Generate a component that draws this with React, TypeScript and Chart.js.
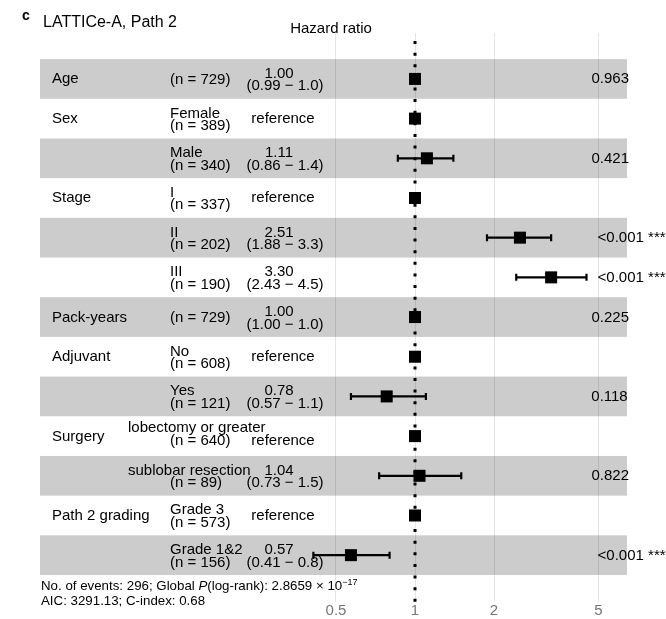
import React, { useEffect, useRef } from "react";
import { Chart, registerables } from "chart.js";

Chart.register(...registerables);

// ---- data ----
const variables = ["Age", "Sex", "", "Stage", "", "", "Pack-years", "Adjuvant", "", "Surgery", "", "Path 2 grading", ""];
const levels = ["", "Female", "Male", "I", "II", "III", "", "No", "Yes", "lobectomy or greater", "sublobar resection", "Grade 3", "Grade 1&2"];
const nCounts = [729, 389, 340, 337, 202, 190, 729, 608, 121, 640, 89, 573, 156];
const hazardRatios = [1.0, 1, 1.11, 1, 2.51, 3.3, 1.0, 1, 0.78, 1, 1.04, 1, 0.57];
const ciLow: (number | null)[] = [0.99, null, 0.86, null, 1.88, 2.43, 1.0, null, 0.57, null, 0.73, null, 0.41];
const ciHigh: (number | null)[] = [1.0, null, 1.4, null, 3.3, 4.5, 1.0, null, 1.1, null, 1.5, null, 0.8];
const estimateLabels = ["1.00", "reference", "1.11", "reference", "2.51", "3.30", "1.00", "reference", "0.78", "reference", "1.04", "reference", "0.57"];
const ciLabels = ["(0.99 \u2212 1.0)", "", "(0.86 \u2212 1.4)", "", "(1.88 \u2212 3.3)", "(2.43 \u2212 4.5)", "(1.00 \u2212 1.0)", "", "(0.57 \u2212 1.1)", "", "(0.73 \u2212 1.5)", "", "(0.41 \u2212 0.8)"];
const pLabels = ["0.963", "", "0.421", "", "<0.001 ***", "<0.001 ***", "0.225", "", "0.118", "", "0.822", "", "<0.001 ***"];
const tickValues = [0.5, 1, 2, 5];
const tickLabels = ["0.5", "1", "2", "5"];

const panelLetter = "c";
const titleText = "LATTICe-A, Path 2";
const axisTitle = "Hazard ratio";
const nEvents = 296;
const logRankMantissa = "2.8659";
const logRankExponent = "\u221217";
const aicValue = "3291.13";
const cIndexValue = "0.68";

const FONT = '"Liberation Sans", Arial, Helvetica, sans-serif';

export default function App() {
  const ref = useRef<HTMLCanvasElement>(null);

  useEffect(() => {
    document.body.style.margin = "0";
    const canvas = ref.current!;

    const forestPlugin = {
      id: "forest",
      beforeDraw(chart: any) {
        const { ctx, chartArea, scales } = chart;
        const y = scales.y;
        ctx.save();
        ctx.fillStyle = "#cccccc";
        for (let i = 0; i < levels.length; i += 2) {
          const a = y.getPixelForValue(i - 0.5);
          const b = y.getPixelForValue(i + 0.5);
          ctx.fillRect(chartArea.left, Math.min(a, b), chartArea.right - chartArea.left, Math.abs(b - a));
        }
        ctx.restore();
      },
      afterDatasetsDraw(chart: any) {
        const { ctx, chartArea, scales } = chart;
        const x = scales.x;
        const y = scales.y;
        ctx.save();
        // error bars
        ctx.strokeStyle = "#000";
        ctx.lineWidth = 2.2;
        for (let i = 0; i < levels.length; i++) {
          const lo = ciLow[i];
          const hi = ciHigh[i];
          if (lo == null || hi == null) continue;
          const yc = y.getPixelForValue(i);
          const x0 = x.getPixelForValue(lo);
          const x1 = x.getPixelForValue(hi);
          ctx.beginPath();
          ctx.moveTo(x0, yc);
          ctx.lineTo(x1, yc);
          ctx.moveTo(x0, yc - 3.5);
          ctx.lineTo(x0, yc + 3.5);
          ctx.moveTo(x1, yc - 3.5);
          ctx.lineTo(x1, yc + 3.5);
          ctx.stroke();
        }
        // dotted reference line at HR = 1
        const xr = x.getPixelForValue(1);
        ctx.lineWidth = 3;
        ctx.setLineDash([3, 8.62]);
        ctx.lineDashOffset = 3.6;
        ctx.beginPath();
        ctx.moveTo(xr, chartArea.top);
        ctx.lineTo(xr, chartArea.bottom);
        ctx.stroke();
        ctx.restore();
      },
      afterDraw(chart: any) {
        const { ctx, scales } = chart;
        const y = scales.y;
        ctx.save();
        ctx.fillStyle = "#000";
        ctx.textBaseline = "alphabetic";
        const f15 = `15px ${FONT}`;
        for (let i = 0; i < levels.length; i++) {
          const yc = y.getPixelForValue(i);
          ctx.font = f15;
          // variable
          if (variables[i]) {
            ctx.textAlign = "left";
            ctx.fillText(variables[i], 52, yc + 4.5);
          }
          // level + n
          ctx.textAlign = "left";
          const nText = `(n = ${nCounts[i]})`;
          let refDy = 4.5;
          if (levels[i]) {
            const w = ctx.measureText(levels[i]).width;
            const wide = w > 100;
            const lx = wide ? 128 : 170;
            // a wide level label on a reference row sits a little higher, pushing the rest down
            const isRef = estimateLabels[i] === "reference";
            const up = wide && isRef ? -3 : 0;
            const down = wide && isRef ? -2.5 : 0;
            if (wide && isRef) refDy = 9;
            ctx.fillText(levels[i], lx, yc - 1 + up);
            ctx.fillText(nText, 170, yc + 11.5 + down);
          } else {
            ctx.fillText(nText, 170, yc + 5);
          }
          // estimate + CI
          ctx.textAlign = "center";
          if (estimateLabels[i] === "reference") {
            ctx.fillText("reference", 283, yc + refDy);
          } else {
            ctx.fillText(estimateLabels[i], 279, yc - 1);
            ctx.fillText(ciLabels[i], 285, yc + 11.5);
          }
          // p value
          if (pLabels[i]) {
            ctx.textAlign = "left";
            const w = ctx.measureText(pLabels[i]).width;
            ctx.fillText(pLabels[i], 584 + 0.2 * w, yc + 4.5);
          }
        }
        // titles
        ctx.textAlign = "left";
        ctx.font = `bold 14px ${FONT}`;
        ctx.fillText(panelLetter, 22, 20);
        ctx.font = `16px ${FONT}`;
        ctx.fillText(titleText, 43, 27);
        ctx.textAlign = "center";
        ctx.font = `15px ${FONT}`;
        ctx.fillText(axisTitle, 331, 33);
        // footnote
        ctx.textAlign = "left";
        let fx = 41;
        const fy = 589.5;
        const put = (t: string, font: string, dy = 0) => {
          ctx.font = font;
          ctx.fillText(t, fx, fy + dy);
          fx += ctx.measureText(t).width;
        };
        const n13 = `13.3px ${FONT}`;
        put(`No. of events: ${nEvents}; Global `, n13);
        put("P", `italic 13.3px ${FONT}`);
        put(`(log-rank): ${logRankMantissa} \u00d7 10`, n13);
        put(logRankExponent, `9px ${FONT}`, -5);
        ctx.font = n13;
        ctx.fillText(`AIC: ${aicValue}; C-index: ${cIndexValue}`, 41, 605);
        ctx.restore();
      },
    };

    const chart = new Chart(canvas, {
      type: "scatter",
      data: {
        datasets: [
          {
            data: hazardRatios.map((v, i) => ({ x: v, y: i })),
            pointStyle: "rect",
            pointRadius: 8.5,
            pointHoverRadius: 8.5,
            backgroundColor: "#000",
            borderWidth: 0,
          },
        ],
      },
      options: {
        responsive: false,
        animation: false,
        events: [],
        layout: { padding: { left: 40, right: 39, top: 33, bottom: 0 } },
        plugins: { legend: { display: false }, tooltip: { enabled: false } },
        scales: {
          x: {
            type: "logarithmic",
            min: 0.03727,
            max: 6.42,
            afterBuildTicks: (s: any) => {
              s.ticks = tickValues.map((v) => ({ value: v }));
            },
            ticks: {
              autoSkip: false,
              maxRotation: 0,
              padding: 1,
              color: "#777",
              font: { family: FONT, size: 15, lineHeight: 1 },
              callback: (v: any) => {
                const k = tickValues.indexOf(Number(v));
                return k >= 0 ? tickLabels[k] : "";
              },
            },
            grid: { color: "rgba(0,0,0,0.1)", lineWidth: 1, drawTicks: false },
            border: { display: false },
          },
          y: {
            type: "linear",
            reverse: true,
            min: -1.157,
            max: 13.18,
            display: false,
          },
        },
      },
      plugins: [forestPlugin],
    } as any);

    return () => chart.destroy();
  }, []);

  return <canvas ref={ref} width={666} height={619} style={{ display: "block" }} />;
}
